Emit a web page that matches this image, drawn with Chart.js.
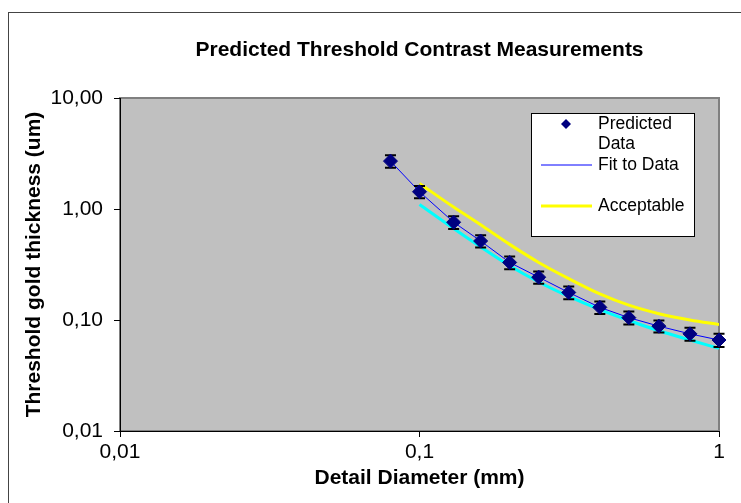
<!DOCTYPE html>
<html>
<head>
<meta charset="utf-8">
<script src="https://cdn.jsdelivr.net/npm/chart.js@4.4.1/dist/chart.umd.min.js"></script>
<style>
  html, body { margin: 0; padding: 0; background: #fff; }
  #wrap { width: 741px; height: 503px; }
</style>
</head>
<body>
<div id="wrap"><canvas id="chart"></canvas></div>
<script>
const chartTitle = 'Predicted Threshold Contrast Measurements';

// detail diameter (mm)
const diameters = [0.08, 0.1, 0.13, 0.16, 0.2, 0.25, 0.315, 0.4, 0.5, 0.63, 0.8, 1.0];
// predicted threshold gold thickness (um) and its error
const predicted = [2.7, 1.43, 0.76, 0.515, 0.33, 0.243, 0.177, 0.13, 0.105, 0.088, 0.075, 0.066];
const predictedError = [0.35, 0.18, 0.1, 0.066, 0.043, 0.031, 0.023, 0.017, 0.014, 0.011, 0.01, 0.009];

// smooth curves
const curveDiameters = [0.1, 0.13, 0.16, 0.2, 0.25, 0.315, 0.4, 0.5, 0.63, 0.8, 1.0];
const modelCurve = [1.1, 0.667, 0.455, 0.308, 0.22, 0.163, 0.124, 0.099, 0.080, 0.066, 0.0555];
const acceptable = [1.7, 1.04, 0.72, 0.48, 0.33, 0.236, 0.172, 0.136, 0.114, 0.1, 0.091];

const xTickValues = [0.01, 0.1, 1];
const xTickLabels = ['0,01', '0,1', '1'];
const yTickValues = [0.01, 0.1, 1, 10];
const yTickLabels = ['0,01', '0,10', '1,00', '10,00'];

const FONT = 'Arial, "Liberation Sans", sans-serif';
Chart.defaults.font.family = FONT;
Chart.defaults.color = '#000';

function toPoints(xs, ys) {
  return xs.map((x, i) => ({ x: x, y: ys[i] }));
}

// gray plot area + outer frame
const plotBackground = {
  id: 'plotBackground',
  beforeDraw(chart) {
    const { ctx, chartArea: a } = chart;
    ctx.save();
    ctx.strokeStyle = '#444';
    ctx.lineWidth = 1;
    ctx.strokeRect(8.5, 12.5, 900, 600);
    ctx.fillStyle = '#c0c0c0';
    ctx.fillRect(a.left, a.top, a.right - a.left, a.bottom - a.top);
    ctx.strokeStyle = '#808080';
    ctx.lineWidth = 2;
    ctx.strokeRect(a.left, a.top, a.right - a.left, a.bottom - a.top);
    ctx.restore();
  },
  afterDraw(chart) {
    const { ctx, chartArea: a } = chart;
    ctx.save();
    ctx.font = 'bold 21px ' + FONT;
    ctx.fillStyle = '#000';
    ctx.textAlign = 'center';
    ctx.textBaseline = 'middle';
    ctx.fillText(chartTitle, (a.left + a.right) / 2, 50);
    ctx.restore();
  }
};

const errorBars = {
  id: 'errorBars',
  beforeDatasetDraw(chart, args) {
    if (args.index !== 0) return;
    const { ctx, scales: { x, y } } = chart;
    ctx.save();
    ctx.strokeStyle = '#000';
    diameters.forEach((d, i) => {
      const px = x.getPixelForValue(d);
      const top = y.getPixelForValue(predicted[i] + predictedError[i]);
      const bot = y.getPixelForValue(predicted[i] - predictedError[i]);
      ctx.lineWidth = 1;
      ctx.beginPath();
      ctx.moveTo(px, top);
      ctx.lineTo(px, bot);
      ctx.stroke();
      ctx.lineWidth = 2;
      ctx.beginPath();
      ctx.moveTo(px - 5.5, top);
      ctx.lineTo(px + 5.5, top);
      ctx.moveTo(px - 5.5, bot);
      ctx.lineTo(px + 5.5, bot);
      ctx.stroke();
    });
    ctx.restore();
  }
};

const boxLegend = {
  id: 'boxLegend',
  afterDraw(chart) {
    const { ctx, chartArea: a } = chart;
    const ds = chart.data.datasets;
    const bx = a.left + 411, by = a.top + 15, bw = 163, bh = 123;
    ctx.save();
    ctx.fillStyle = '#fff';
    ctx.fillRect(bx, by, bw, bh);
    ctx.strokeStyle = '#000';
    ctx.lineWidth = 1;
    ctx.strokeRect(bx + 0.5, by + 0.5, bw, bh);

    ctx.font = '17.5px ' + FONT;
    ctx.fillStyle = '#000';
    ctx.textAlign = 'left';
    ctx.textBaseline = 'middle';
    const tx = bx + 67;

    // predicted data: diamond
    const sx = bx + 35, sy = by + 11;
    ctx.fillStyle = ds[0].backgroundColor;
    ctx.beginPath();
    ctx.moveTo(sx, sy - 5);
    ctx.lineTo(sx + 5, sy);
    ctx.lineTo(sx, sy + 5);
    ctx.lineTo(sx - 5, sy);
    ctx.closePath();
    ctx.fill();
    ctx.fillStyle = '#000';
    const words = ds[0].label.split(' ');
    ctx.fillText(words[0], tx, by + 11);
    ctx.fillText(words[1], tx, by + 31);

    // line entries
    [[1, by + 52], [3, by + 93]].forEach(([i, y]) => {
      ctx.strokeStyle = ds[i].borderColor;
      ctx.lineWidth = ds[i].borderWidth;
      ctx.beginPath();
      ctx.moveTo(bx + 10, y);
      ctx.lineTo(bx + 61, y);
      ctx.stroke();
      ctx.fillText(ds[i].label, tx, y);
    });
    ctx.restore();
  }
};

new Chart(document.getElementById('chart').getContext('2d'), {
  type: 'scatter',
  data: {
    datasets: [{
      label: 'Predicted Data',
      data: toPoints(diameters, predicted),
      showLine: false,
      pointStyle: 'rectRot',
      pointRadius: 7,
      pointHoverRadius: 7,
      backgroundColor: '#000080',
      borderColor: '#000080',
      borderWidth: 1,
      clip: false,
    }, {
      label: 'Fit to Data',
      data: toPoints(diameters, predicted),
      showLine: true,
      pointRadius: 0,
      borderColor: '#0000ff',
      borderWidth: 1,
    }, {
      label: 'Model',
      data: toPoints(curveDiameters, modelCurve),
      showLine: true,
      pointRadius: 0,
      borderColor: '#00ffff',
      borderWidth: 3,
      cubicInterpolationMode: 'monotone',
    }, {
      label: 'Acceptable',
      data: toPoints(curveDiameters, acceptable),
      showLine: true,
      pointRadius: 0,
      borderColor: '#ffff00',
      borderWidth: 3,
      cubicInterpolationMode: 'monotone',
    }],
  },
  options: {
    responsive: true,
    maintainAspectRatio: false,
    animation: false,
    layout: { padding: { left: 0, right: 22, top: 98, bottom: 0 } },
    plugins: {
      legend: { display: false },
      title: { display: false },
      tooltip: { enabled: false },
    },
    scales: {
      x: {
        type: 'logarithmic',
        min: 0.01,
        max: 1,
        afterFit(scale) { scale.height = 72; },
        afterBuildTicks(scale) { scale.ticks = xTickValues.map(v => ({ value: v })); },
        ticks: {
          font: { size: 21 },
          color: '#000',
          padding: 3,
          maxRotation: 0,
          autoSkip: false,
          callback: (v) => xTickLabels[xTickValues.indexOf(v)],
        },
        grid: { drawOnChartArea: false, drawTicks: true, tickLength: 6, color: '#000' },
        border: { display: true, color: '#000', width: 1 },
        title: {
          display: true,
          text: 'Detail Diameter (mm)',
          font: { size: 21, weight: 'bold' },
          color: '#000',
          padding: { top: 0, bottom: 12 },
        },
      },
      y: {
        type: 'logarithmic',
        min: 0.01,
        max: 10,
        afterFit(scale) { scale.width = 120; },
        afterBuildTicks(scale) { scale.ticks = yTickValues.map(v => ({ value: v })); },
        ticks: {
          font: { size: 21 },
          color: '#000',
          padding: 11,
          autoSkip: false,
          callback: (v) => yTickLabels[yTickValues.indexOf(v)],
        },
        grid: { drawOnChartArea: false, drawTicks: true, tickLength: 6, color: '#000' },
        border: { display: true, color: '#000', width: 1 },
        title: {
          display: true,
          text: 'Threshold gold thickness (um)',
          font: { size: 21, weight: 'bold' },
          color: '#000',
          padding: { top: 22, bottom: 0 },
        },
      },
    },
  },
  plugins: [plotBackground, errorBars, boxLegend],
});
</script>
</body>
</html>
